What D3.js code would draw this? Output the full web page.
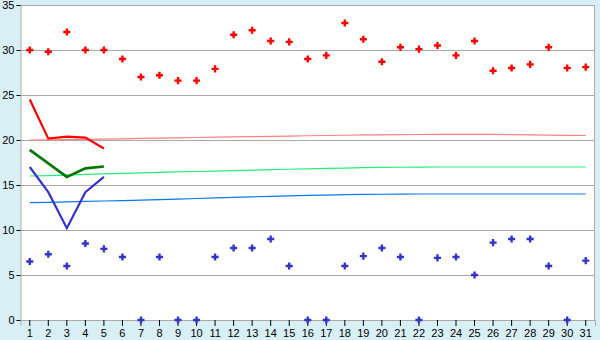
<!DOCTYPE html>
<html>
<head>
<meta charset="utf-8">
<script src="https://cdn.jsdelivr.net/npm/d3@7"></script>
<style>
  body { margin: 0; background: #d9eff6; }
  svg { display: block; font-family: "DejaVu Sans", sans-serif; }
</style>
</head>
<body>
<div id="chart"></div>
<script>
// days of the month
var days = d3.range(1, 32);
var yTicks = [0, 5, 10, 15, 20, 25, 30, 35];

// daily maximum / minimum (points)
var highs = [30, 29.8, 32, 30, 30, 29, 27, 27.2, 26.6, 26.6, 27.9, 31.7, 32.2, 31, 30.9, 29, 29.4, 33, 31.2, 28.7, 30.3, 30.1, 30.5, 29.4, 31, 27.7, 28, 28.4, 30.3, 28, 28.1];
var lows = [6.5, 7.3, 6, 8.5, 7.9, 7, 0, 7, 0, 0, 7, 8, 8, 9, 6, 0, 0, 6, 7.1, 8, 7, 0, 6.9, 7, 5, 8.6, 9, 9, 6, 0, 6.6];

// first days: observed lines
var firstDays = [1, 2, 3, 4, 5];
var redLine = [24.5, 20.15, 20.37, 20.26, 19.05];
var greenLine = [18.9, 17.4, 15.9, 16.85, 17.05];
var blueLine = [17, 14.2, 10.2, 14.2, 15.9];

// normals for the whole month
var pinkNormal = [20.0, 20.02, 20.04, 20.07, 20.1, 20.13, 20.17, 20.2, 20.24, 20.28, 20.32, 20.35, 20.38, 20.41, 20.44, 20.47, 20.5, 20.53, 20.56, 20.58, 20.6, 20.61, 20.62, 20.63, 20.63, 20.62, 20.6, 20.57, 20.55, 20.52, 20.5];
var greenNormal = [16.0, 16.05, 16.1, 16.17, 16.23, 16.3, 16.35, 16.4, 16.45, 16.5, 16.55, 16.6, 16.65, 16.7, 16.75, 16.8, 16.84, 16.88, 16.92, 16.95, 16.97, 16.98, 17.0, 17.0, 17.0, 17.0, 17.0, 17.0, 17.0, 17.0, 17.0];
var blueNormal = [13.05, 13.08, 13.12, 13.17, 13.22, 13.27, 13.32, 13.37, 13.42, 13.5, 13.57, 13.63, 13.69, 13.74, 13.79, 13.84, 13.88, 13.92, 13.95, 13.97, 13.98, 14.0, 14.0, 14.0, 14.0, 14.0, 14.0, 14.0, 14.0, 14.0, 14.0];

var margin = {top: 5, right: 5, bottom: 20, left: 20.5},
    width = 600 - margin.left - margin.right,
    height = 340 - margin.top - margin.bottom;

var x = d3.scaleBand().domain(days).range([0, width]);
var y = d3.scaleLinear().domain([0, 35]).range([height, 0]);
var cx = d => x(d) + x.bandwidth() / 2;

var svg = d3.select("#chart").append("svg")
  .attr("width", 600)
  .attr("height", 340)
  .append("g")
  .attr("transform", "translate(" + margin.left + "," + margin.top + ")");

svg.append("rect")
  .attr("width", width)
  .attr("height", height)
  .attr("fill", "#fff");

// grid
svg.append("g").selectAll("line").data(yTicks).join("line")
  .attr("x1", 0).attr("x2", width)
  .attr("y1", d => Math.round(y(d)) + 0.5).attr("y2", d => Math.round(y(d)) + 0.5)
  .attr("stroke", "#aaa")
  .attr("shape-rendering", "crispEdges");

svg.append("line")
  .attr("x1", width - 0.5).attr("x2", width - 0.5)
  .attr("y1", 0).attr("y2", height)
  .attr("stroke", "#aaa")
  .attr("shape-rendering", "crispEdges");

// axes
var yAxis = svg.append("g")
  .call(d3.axisLeft(y).tickValues(yTicks).tickSize(4).tickPadding(2));
var xAxis = svg.append("g")
  .attr("transform", "translate(0," + height + ")")
  .call(d3.axisBottom(x).tickSize(6).tickPadding(3));
[xAxis, yAxis].forEach(g => {
  g.select(".domain").attr("stroke", "#aaa");
  g.selectAll(".tick line").attr("stroke", "#000");
  g.selectAll("text").attr("fill", "#000").style("font-size", "11px");
});

function drawLine(xs, vals, color, w) {
  var line = d3.line()
    .x((d, i) => cx(xs[i]))
    .y(d => y(d));
  svg.append("path")
    .datum(vals)
    .attr("fill", "none")
    .attr("stroke", color)
    .attr("stroke-width", w)
    .attr("d", line);
}

drawLine(days, pinkNormal, "#ff8080", 1.2);
drawLine(days, greenNormal, "#22ee77", 1.2);
drawLine(days, blueNormal, "#0a78ee", 1.2);

drawLine(firstDays, redLine, "#ff0000", 2.2);
drawLine(firstDays, greenLine, "#007700", 2.6);
drawLine(firstDays, blueLine, "#3333cc", 2.2);

var cross = d3.symbol().type(d3.symbolCross).size(28);

svg.append("g").selectAll("path").data(highs).join("path")
  .attr("transform", (d, i) => "translate(" + cx(days[i]) + "," + y(d) + ")")
  .attr("d", cross)
  .attr("fill", "#ff0000");

svg.append("g").selectAll("path").data(lows).join("path")
  .attr("transform", (d, i) => "translate(" + cx(days[i]) + "," + y(d) + ")")
  .attr("d", cross)
  .attr("fill", "#3333cc");
</script>
</body>
</html>
